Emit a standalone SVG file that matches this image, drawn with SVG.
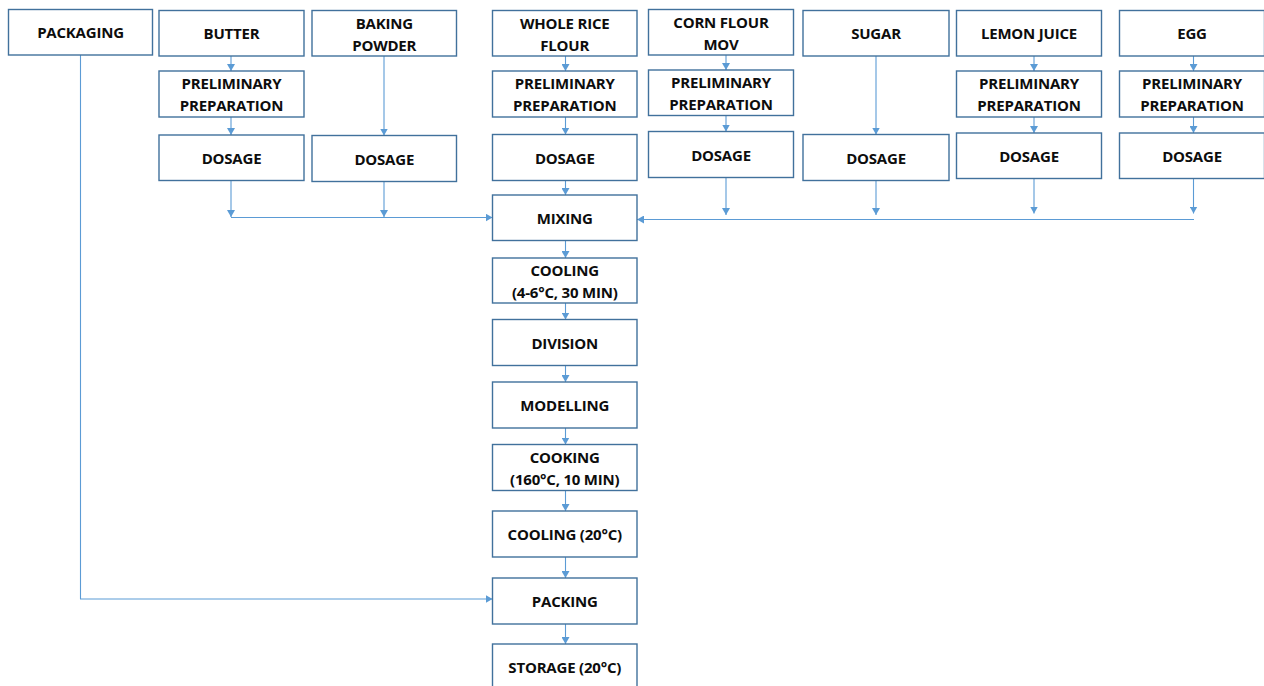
<svg xmlns="http://www.w3.org/2000/svg" width="1264" height="686" viewBox="0 0 1264 686">
<defs>
<marker id="ah" viewBox="0 0 7 8" refX="7" refY="4" markerWidth="7" markerHeight="8" markerUnits="userSpaceOnUse" orient="auto">
<path d="M0,0 L7,4 L0,8 z" fill="#5B9BD5"/>
</marker>
<style>
.box{fill:#ffffff;stroke:#41719C;stroke-width:1.4}
.t{font-family:"Open Sans","Liberation Sans",Arial,sans-serif;font-weight:700;font-size:15px;letter-spacing:-0.2px;fill:#0d0d0d;text-anchor:middle}
.c{fill:none;stroke:#5B9BD5;stroke-width:1.1}
.a{marker-end:url(#ah)}
</style>
</defs>
<rect width="1264" height="686" fill="#ffffff"/>

<g id="connectors">
<path class="c a" d="M231,56 V71"/>
<path class="c a" d="M231,117 V135"/>
<path class="c a" d="M231,180.5 V217"/>
<path class="c a" d="M384,56 V135.5"/>
<path class="c a" d="M384,181.5 V217"/>
<path class="c a" d="M231,217.5 H492.5"/>
<path class="c a" d="M565.5,56 V71"/>
<path class="c a" d="M565.5,117 V134.5"/>
<path class="c a" d="M565.5,180.5 V195"/>
<path class="c a" d="M565.5,240.5 V258"/>
<path class="c a" d="M565.5,303 V319.5"/>
<path class="c a" d="M565.5,365.5 V382"/>
<path class="c a" d="M565.5,428 V444.5"/>
<path class="c a" d="M565.5,490.5 V511"/>
<path class="c a" d="M565.5,557 V578"/>
<path class="c a" d="M565.5,624 V644"/>
<path class="c a" d="M726,55 V70"/>
<path class="c a" d="M726,115.5 V131.5"/>
<path class="c a" d="M726,177.5 V215"/>
<path class="c a" d="M876,56 V134.5"/>
<path class="c a" d="M876,180.5 V215"/>
<path class="c a" d="M1034,56 V71"/>
<path class="c a" d="M1034,117 V133"/>
<path class="c a" d="M1034,178.5 V213.5"/>
<path class="c a" d="M1193.5,56 V71"/>
<path class="c a" d="M1193.5,117 V133"/>
<path class="c a" d="M1193.5,178.5 V213.5"/>
<path class="c a" d="M1194,219.5 H637"/>
<path class="c a" d="M80.5,55 V599 H492.5"/>
</g>

<g id="packaging"><rect class="box" x="8.5" y="9.5" width="144" height="45.5"/><text class="t" x="80.5" y="38">PACKAGING</text></g>
<g id="butter"><rect class="box" x="159" y="10.5" width="145" height="45.5"/><text class="t" x="231.5" y="39">BUTTER</text></g>
<g id="butter-prep"><rect class="box" x="159" y="71" width="145" height="46"/><text class="t" x="231.5" y="89.25">PRELIMINARY</text><text class="t" x="231.5" y="111">PREPARATION</text></g>
<g id="butter-dosage"><rect class="box" x="159" y="135" width="145" height="45.5"/><text class="t" x="231.5" y="163.75">DOSAGE</text></g>

<g id="baking-powder"><rect class="box" x="312" y="10.5" width="144.5" height="45.5"/><text class="t" x="384.25" y="28.75">BAKING</text><text class="t" x="384.25" y="50.75">POWDER</text></g>
<g id="baking-dosage"><rect class="box" x="312" y="135.5" width="144.5" height="46"/><text class="t" x="384.25" y="164.5">DOSAGE</text></g>

<g id="rice-flour"><rect class="box" x="492.5" y="10.5" width="144.5" height="45.5"/><text class="t" x="564.75" y="29">WHOLE RICE</text><text class="t" x="564.75" y="51">FLOUR</text></g>
<g id="rice-prep"><rect class="box" x="492.5" y="71" width="144.5" height="46"/><text class="t" x="564.75" y="89.25">PRELIMINARY</text><text class="t" x="564.75" y="111">PREPARATION</text></g>
<g id="rice-dosage"><rect class="box" x="492.5" y="134.5" width="144.5" height="46"/><text class="t" x="564.75" y="163.5">DOSAGE</text></g>

<g id="corn-flour"><rect class="box" x="648.5" y="9.5" width="145" height="45.5"/><text class="t" x="721" y="27.75">CORN FLOUR</text><text class="t" x="721" y="49.75">MOV</text></g>
<g id="corn-prep"><rect class="box" x="648.5" y="70" width="145" height="45.5"/><text class="t" x="721" y="88">PRELIMINARY</text><text class="t" x="721" y="110">PREPARATION</text></g>
<g id="corn-dosage"><rect class="box" x="648.5" y="131.5" width="145" height="46"/><text class="t" x="721" y="160.5">DOSAGE</text></g>

<g id="sugar"><rect class="box" x="803" y="10.5" width="146" height="45.5"/><text class="t" x="876" y="39">SUGAR</text></g>
<g id="sugar-dosage"><rect class="box" x="803" y="134.5" width="146" height="46"/><text class="t" x="876" y="163.5">DOSAGE</text></g>

<g id="lemon-juice"><rect class="box" x="956.5" y="10.5" width="145" height="45.5"/><text class="t" x="1029" y="39">LEMON JUICE</text></g>
<g id="lemon-prep"><rect class="box" x="956.5" y="71" width="145" height="46"/><text class="t" x="1029" y="89.25">PRELIMINARY</text><text class="t" x="1029" y="111">PREPARATION</text></g>
<g id="lemon-dosage"><rect class="box" x="956.5" y="133" width="145" height="45.5"/><text class="t" x="1029" y="161.75">DOSAGE</text></g>

<g id="egg"><rect class="box" x="1119.5" y="10.5" width="145" height="45.5"/><text class="t" x="1192" y="39">EGG</text></g>
<g id="egg-prep"><rect class="box" x="1119.5" y="71" width="145" height="46"/><text class="t" x="1192" y="89.25">PRELIMINARY</text><text class="t" x="1192" y="111">PREPARATION</text></g>
<g id="egg-dosage"><rect class="box" x="1119.5" y="133" width="145" height="45.5"/><text class="t" x="1192" y="161.75">DOSAGE</text></g>

<g id="mixing"><rect class="box" x="492.5" y="195" width="144.5" height="45.5"/><text class="t" x="564.75" y="223.75">MIXING</text></g>
<g id="cooling-1"><rect class="box" x="492.5" y="258" width="144.5" height="45"/><text class="t" x="564.75" y="275.75">COOLING</text><text class="t" x="564.75" y="298.25">(4-6°C, 30 MIN)</text></g>
<g id="division"><rect class="box" x="492.5" y="319.5" width="144.5" height="46"/><text class="t" x="564.75" y="348.5">DIVISION</text></g>
<g id="modelling"><rect class="box" x="492.5" y="382" width="144.5" height="46"/><text class="t" x="564.75" y="411">MODELLING</text></g>
<g id="cooking"><rect class="box" x="492.5" y="444.5" width="144.5" height="46"/><text class="t" x="564.75" y="462.75">COOKING</text><text class="t" x="564.75" y="485">(160°C, 10 MIN)</text></g>
<g id="cooling-2"><rect class="box" x="492.5" y="511" width="144.5" height="46"/><text class="t" x="564.75" y="540">COOLING (20°C)</text></g>
<g id="packing"><rect class="box" x="492.5" y="578" width="144.5" height="46"/><text class="t" x="564.75" y="607">PACKING</text></g>
<g id="storage"><rect class="box" x="492.5" y="644" width="144.5" height="46"/><text class="t" x="564.75" y="673">STORAGE (20°C)</text></g>
</svg>
